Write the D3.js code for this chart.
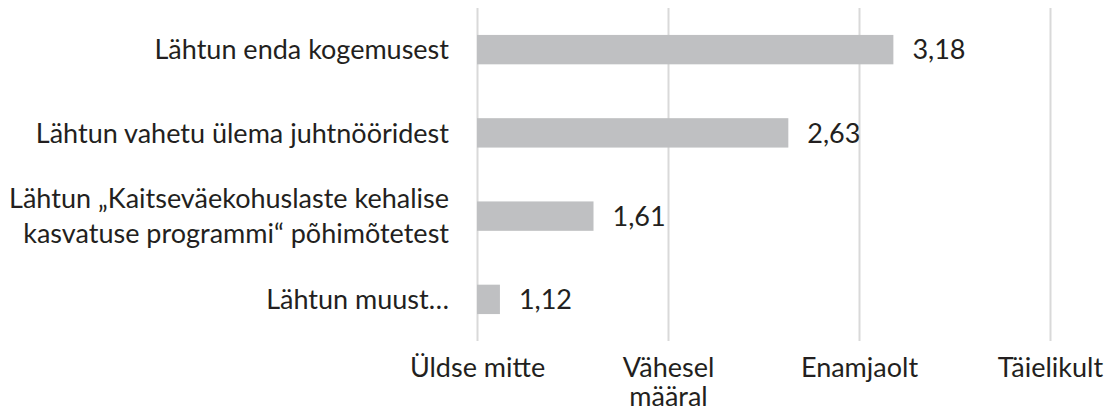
<!DOCTYPE html>
<html>
<head>
<meta charset="utf-8">
<script src="https://cdn.jsdelivr.net/npm/d3@7"></script>
<style>
  body { margin: 0; background: #fff; }
  svg text { font-family: "Lato", "Open Sans", sans-serif; fill: #231f20; }
</style>
</head>
<body>
<svg id="chart" width="1116" height="412"></svg>
<script>
// categories (top to bottom), "\n" marks a line break
const categories = [
  "Lähtun enda kogemusest",
  "Lähtun vahetu ülema juhtnööridest",
  "Lähtun „Kaitseväekohuslaste kehalise\nkasvatuse programmi“ põhimõtetest",
  "Lähtun muust…"
];
const values = [3.18, 2.63, 1.61, 1.12];
const tickValues = [1, 2, 3, 4];
const tickLabels = ["Üldse mitte", "Vähesel\nmääral", "Enamjaolt", "Täielikult"];

const BAR_COLOR = "#bfc0c2";
const GRID_COLOR = "#d9d9d9";
const FONT_SIZE = 27;

const svg = d3.select("#chart");

const x = d3.scaleLinear().domain([1, 4]).range([477, 1050]);

const y = d3.scaleBand()
  .domain(categories)
  .range([8, 341])
  .paddingInner(0.647)
  .paddingOuter(0.3235);

const fmt = (v) => d3.format(".2f")(v).replace(".", ",");

// gridlines + tick labels
const xAxis = d3.axisBottom(x)
  .tickValues(tickValues)
  .tickSize(-(341 - 8))
  .tickFormat("");

const gx = svg.append("g")
  .attr("transform", "translate(0,341)")
  .call(xAxis);

gx.select(".domain").remove();
gx.selectAll(".tick line")
  .attr("stroke", GRID_COLOR)
  .attr("stroke-width", 2);

gx.selectAll(".tick text").remove();
gx.selectAll(".tick")
  .append("text")
  .attr("text-anchor", "middle")
  .style("font-size", FONT_SIZE + "px")
  .selectAll("tspan")
  .data((d, i) => tickLabels[i].split("\n"))
  .enter()
  .append("tspan")
  .attr("x", 0)
  .attr("y", (d, i) => 36 + i * 29)
  .text((d) => d);

// bars
svg.append("g")
  .selectAll("rect")
  .data(values)
  .enter()
  .append("rect")
  .attr("x", x(1))
  .attr("y", (d, i) => y(categories[i]))
  .attr("width", (d) => x(d) - x(1))
  .attr("height", y.bandwidth())
  .attr("fill", BAR_COLOR);

// value labels
svg.append("g")
  .selectAll("text")
  .data(values)
  .enter()
  .append("text")
  .attr("x", (d) => x(d) + 19)
  .attr("y", (d, i) => y(categories[i]) + y.bandwidth() / 2)
  .attr("dy", "0.36em")
  .style("font-size", FONT_SIZE + "px")
  .text((d) => fmt(d));

// category labels
const LINE_H = 35;
svg.append("g")
  .selectAll("text")
  .data(categories)
  .enter()
  .append("text")
  .attr("text-anchor", "end")
  .style("font-size", FONT_SIZE + "px")
  .each(function (d) {
    const lines = d.split("\n");
    const cy = y(d) + y.bandwidth() / 2;
    const first = cy - ((lines.length - 1) * LINE_H) / 2;
    d3.select(this)
      .selectAll("tspan")
      .data(lines)
      .enter()
      .append("tspan")
      .attr("x", 449)
      .attr("y", (l, i) => first + i * LINE_H)
      .attr("dy", "0.36em")
      .text((l) => l);
  });
</script>
</body>
</html>
